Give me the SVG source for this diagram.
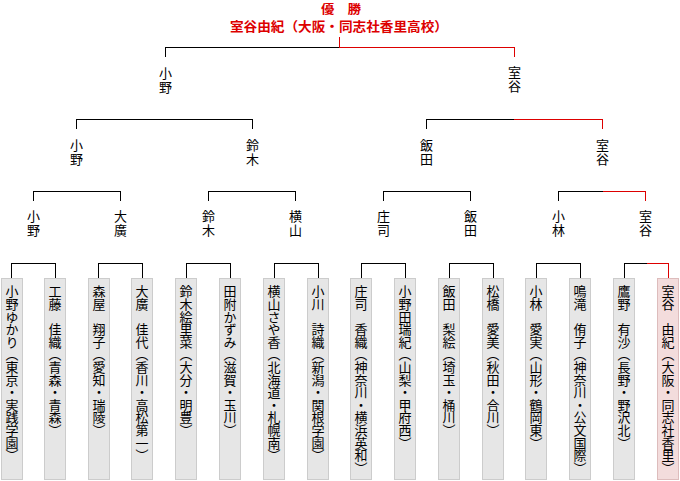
<svg xmlns="http://www.w3.org/2000/svg" width="680" height="481" viewBox="0 0 680 481">
<style>
.ln{fill:none;stroke:#000;stroke-width:1;shape-rendering:crispEdges}
.rd{fill:none;stroke:#dd0000;stroke-width:1;shape-rendering:crispEdges}
.bx{fill:#e6e6e6;stroke:#cccccc;stroke-width:1;shape-rendering:crispEdges}
.bw{fill:#f3dcdc;stroke:#ddbcbc;stroke-width:1;shape-rendering:crispEdges}
.lb{font-family:"Noto Sans CJK JP","Noto Sans",sans-serif;font-size:13px;fill:#000;writing-mode:vertical-rl;letter-spacing:1px}
.vt{font-family:"Noto Sans CJK JP","Noto Sans",sans-serif;font-size:13px;fill:#000;writing-mode:vertical-rl;letter-spacing:-0.4px}
.tt{font-family:"Noto Sans CJK JP","Noto Sans",sans-serif;font-size:12px;font-weight:bold;fill:#dd0000;text-anchor:middle}
.tm{font-family:"Noto Sans CJK JP","Noto Sans",sans-serif;font-size:13px;font-weight:bold;fill:#dd0000;text-anchor:middle}
</style>
<rect width="680" height="481" fill="#fff"/>
<g id="title">
<text class="tt" x="341" y="14" textLength="40" lengthAdjust="spacingAndGlyphs">優　勝</text>
<text class="tm" x="339" y="30.5" textLength="218" lengthAdjust="spacingAndGlyphs">室谷由紀（大阪・同志社香里高校）</text>
</g>
<g id="connectors">
<path class="ln" d="M339.5 37V47.5M165.5 57V47.5H339.5"/>
<path class="rd" d="M339.5 37V47.5M339.5 47.5H514.5V57"/>
<path class="ln" d="M76.5 129V119.5H252.5V129"/>
<path class="ln" d="M426.5 129V119.5H513.5"/>
<path class="rd" d="M513.5 119.5H602.5V129"/>
<path class="ln" d="M33.5 201V191.5H120.5V201"/>
<path class="ln" d="M208.5 201V191.5H295.5V201"/>
<path class="ln" d="M383.5 201V191.5H470.5V201"/>
<path class="ln" d="M558.5 201V191.5H602.5"/>
<path class="rd" d="M602.5 191.5H645.5V201"/>
<path class="ln" d="M11.5 278V263.5H55.5V278"/>
<path class="ln" d="M98.5 278V263.5H142.5V278"/>
<path class="ln" d="M186.5 278V263.5H230.5V278"/>
<path class="ln" d="M274.5 278V263.5H318.5V278"/>
<path class="ln" d="M361.5 278V263.5H405.5V278"/>
<path class="ln" d="M449.5 278V263.5H493.5V278"/>
<path class="ln" d="M536.5 278V263.5H580.5V278"/>
<path class="ln" d="M624.5 278V263.5H646.5"/>
<path class="rd" d="M646.5 263.5H668.5V278"/>
</g>
<g id="r4-left"><text class="lb" x="165.5" y="67">小野</text></g>
<g id="r4-right"><text class="lb" x="514.5" y="66">室谷</text></g>
<g id="r3-1"><text class="lb" x="76.5" y="139">小野</text></g>
<g id="r3-2"><text class="lb" x="252.5" y="139">鈴木</text></g>
<g id="r3-3"><text class="lb" x="426.5" y="139">飯田</text></g>
<g id="r3-4"><text class="lb" x="602.5" y="139">室谷</text></g>
<g id="r2-1"><text class="lb" x="33.5" y="210">小野</text></g>
<g id="r2-2"><text class="lb" x="120.5" y="210">大廣</text></g>
<g id="r2-3"><text class="lb" x="208.5" y="210">鈴木</text></g>
<g id="r2-4"><text class="lb" x="295.5" y="210">横山</text></g>
<g id="r2-5"><text class="lb" x="383.5" y="210">庄司</text></g>
<g id="r2-6"><text class="lb" x="470.5" y="210">飯田</text></g>
<g id="r2-7"><text class="lb" x="558.5" y="210">小林</text></g>
<g id="r2-8"><text class="lb" x="645.5" y="210">室谷</text></g>
<g id="p1"><rect class="bx" x="1.5" y="278.5" width="21" height="201"/><text class="vt" x="12" y="285">小野ゆかり（東京・実践学園）</text></g>
<g id="p2"><rect class="bx" x="44.5" y="278.5" width="21" height="201"/><text class="vt" x="55" y="285">工藤　佳織（青森・青森）</text></g>
<g id="p3"><rect class="bx" x="88.5" y="278.5" width="21" height="201"/><text class="vt" x="99" y="285">森屋　翔子（愛知・瑞陵）</text></g>
<g id="p4"><rect class="bx" x="131.5" y="278.5" width="21" height="201"/><text class="vt" x="142" y="285">大廣　佳代（香川・高松第一）</text></g>
<g id="p5"><rect class="bx" x="175.5" y="278.5" width="21" height="201"/><text class="vt" x="186" y="285">鈴木絵里菜（大分・明豊）</text></g>
<g id="p6"><rect class="bx" x="219.5" y="278.5" width="21" height="201"/><text class="vt" x="230" y="285">田附かずみ（滋賀・玉川）</text></g>
<g id="p7"><rect class="bx" x="263.5" y="278.5" width="21" height="201"/><text class="vt" x="274" y="285">横山さや香（北海道・札幌南）</text></g>
<g id="p8"><rect class="bx" x="307.5" y="278.5" width="21" height="201"/><text class="vt" x="318" y="285">小川　詩織（新潟・関根学園）</text></g>
<g id="p9"><rect class="bx" x="350.5" y="278.5" width="21" height="201"/><text class="vt" x="361" y="285">庄司　香織（神奈川・横浜英和）</text></g>
<g id="p10"><rect class="bx" x="394.5" y="278.5" width="21" height="201"/><text class="vt" x="405" y="285">小野田瑞紀（山梨・甲府西）</text></g>
<g id="p11"><rect class="bx" x="438.5" y="278.5" width="21" height="201"/><text class="vt" x="449" y="285">飯田　梨絵（埼玉・桶川）</text></g>
<g id="p12"><rect class="bx" x="482.5" y="278.5" width="21" height="201"/><text class="vt" x="493" y="285">松橋　愛美（秋田・合川）</text></g>
<g id="p13"><rect class="bx" x="525.5" y="278.5" width="21" height="201"/><text class="vt" x="536" y="285">小林　愛実（山形・鶴岡東）</text></g>
<g id="p14"><rect class="bx" x="569.5" y="278.5" width="21" height="201"/><text class="vt" x="580" y="285">鳴滝　侑子（神奈川・公文国際）</text></g>
<g id="p15"><rect class="bx" x="613.5" y="278.5" width="21" height="201"/><text class="vt" x="624" y="285">鷹野　有沙（長野・野沢北）</text></g>
<g id="p16"><rect class="bw" x="657.5" y="278.5" width="21" height="201"/><text class="vt" x="668" y="285">室谷　由紀（大阪・同志社香里）</text></g>
</svg>
